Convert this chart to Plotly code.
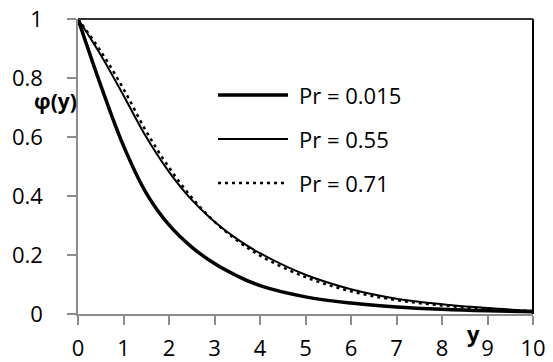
import plotly.graph_objects as go

# Dimensionless distance y
y_pts = [0, 0.5, 1, 1.5, 2, 2.5, 3, 3.5, 4, 5, 6, 7, 8, 9, 10]

# Temperature profiles phi(y) for three Prandtl numbers
phi_pr_0015 = [1.0, 0.775, 0.570, 0.410, 0.302, 0.227, 0.171, 0.129, 0.096, 0.058, 0.037, 0.024, 0.016, 0.011, 0.008]
phi_pr_055 = [1.0, 0.878, 0.741, 0.600, 0.482, 0.387, 0.313, 0.254, 0.206, 0.133, 0.084, 0.052, 0.033, 0.020, 0.011]
phi_pr_071 = [1.0, 0.891, 0.763, 0.619, 0.497, 0.395, 0.313, 0.249, 0.198, 0.125, 0.077, 0.047, 0.029, 0.017, 0.010]

series_names = ["Pr = 0.015", "Pr = 0.55", "Pr = 0.71"]
series_values = [phi_pr_0015, phi_pr_055, phi_pr_071]
line_widths = [3.5, 2, 2.5]
line_dashes = ["solid", "solid", "3px,4px"]

x_ticks = list(range(0, 11))
y_ticks = [0, 0.2, 0.4, 0.6, 0.8, 1]
y_tick_text = ["0", "0.2", "0.4", "0.6", "0.8", "1"]

FONT = "Open Sans"

fig = go.Figure()
for name, vals, w, d in zip(series_names, series_values, line_widths, line_dashes):
    fig.add_trace(go.Scatter(
        x=y_pts, y=vals, mode="lines", name=name,
        line=dict(color="black", width=w, dash=d, shape="spline", smoothing=1),
        showlegend=False,
    ))

W, H = 553, 362
ml, mr, mt, mb = 78, 20, 19, 48
pw, ph = W - ml - mr, H - mt - mb


def px_to_paper(px, py):
    return (px - ml) / pw, 1 - (py - mt) / ph


# Legend: sample line plus label, stacked inside the plot area
legend_x0, legend_x1, legend_text_x = 218, 288, 297
legend_rows = [95, 139, 183]

shapes = []
annotations = []
for name, w, d, row in zip(series_names, line_widths, line_dashes, legend_rows):
    xa, ya = px_to_paper(legend_x0, row)
    xb, _ = px_to_paper(legend_x1, row)
    shapes.append(dict(type="line", xref="paper", yref="paper", x0=xa, x1=xb, y0=ya, y1=ya,
                       line=dict(color="black", width=w, dash=d)))
    xt, _ = px_to_paper(legend_text_x, row)
    annotations.append(dict(xref="paper", yref="paper", x=xt, y=ya, text=name, showarrow=False,
                            xanchor="left", yanchor="middle",
                            font=dict(family=FONT, size=22, color="black")))

# Dark frame on the top and right edges of the plot area
shapes.append(dict(type="line", xref="paper", yref="paper", x0=0, x1=1, y0=1, y1=1,
                   line=dict(color="#333333", width=2)))
shapes.append(dict(type="line", xref="paper", yref="paper", x0=1, x1=1, y0=0, y1=1,
                   line=dict(color="black", width=2)))

# Axis titles
phi_x, phi_y = px_to_paper(55, 101)
annotations.append(dict(xref="paper", yref="paper", x=phi_x, y=phi_y, text="<b>φ(y)</b>", showarrow=False,
                        xanchor="center", yanchor="middle",
                        font=dict(family=FONT, size=21, color="black")))
yl_x, yl_y = px_to_paper(473, 333)
annotations.append(dict(xref="paper", yref="paper", x=yl_x, y=yl_y, text="<b>y</b>", showarrow=False,
                        xanchor="center", yanchor="middle",
                        font=dict(family=FONT, size=22, color="black")))

fig.update_layout(
    width=W, height=H,
    margin=dict(l=ml, r=mr, t=mt, b=mb, autoexpand=False),
    paper_bgcolor="white", plot_bgcolor="white",
    shapes=shapes, annotations=annotations,
    font=dict(family=FONT, size=22, color="black"),
)
fig.update_xaxes(
    range=[0, 10], tickvals=x_ticks, ticktext=[str(t) for t in x_ticks],
    showgrid=False, zeroline=False, showline=True, linecolor="#8c8c8c", linewidth=1.5,
    ticks="outside", ticklen=9, tickcolor="#8c8c8c", tickwidth=1.5,
    ticklabelstandoff=5, automargin=False,
    tickfont=dict(family=FONT, size=22, color="black"),
)
fig.update_yaxes(
    range=[0, 1], tickvals=y_ticks, ticktext=y_tick_text,
    showgrid=False, zeroline=False, showline=True, linecolor="#8c8c8c", linewidth=1.5,
    ticks="outside", ticklen=9, tickcolor="#8c8c8c", tickwidth=1.5,
    ticklabelstandoff=20, automargin=False,
    tickfont=dict(family=FONT, size=22, color="black"),
)

fig.write_html("out.html")
